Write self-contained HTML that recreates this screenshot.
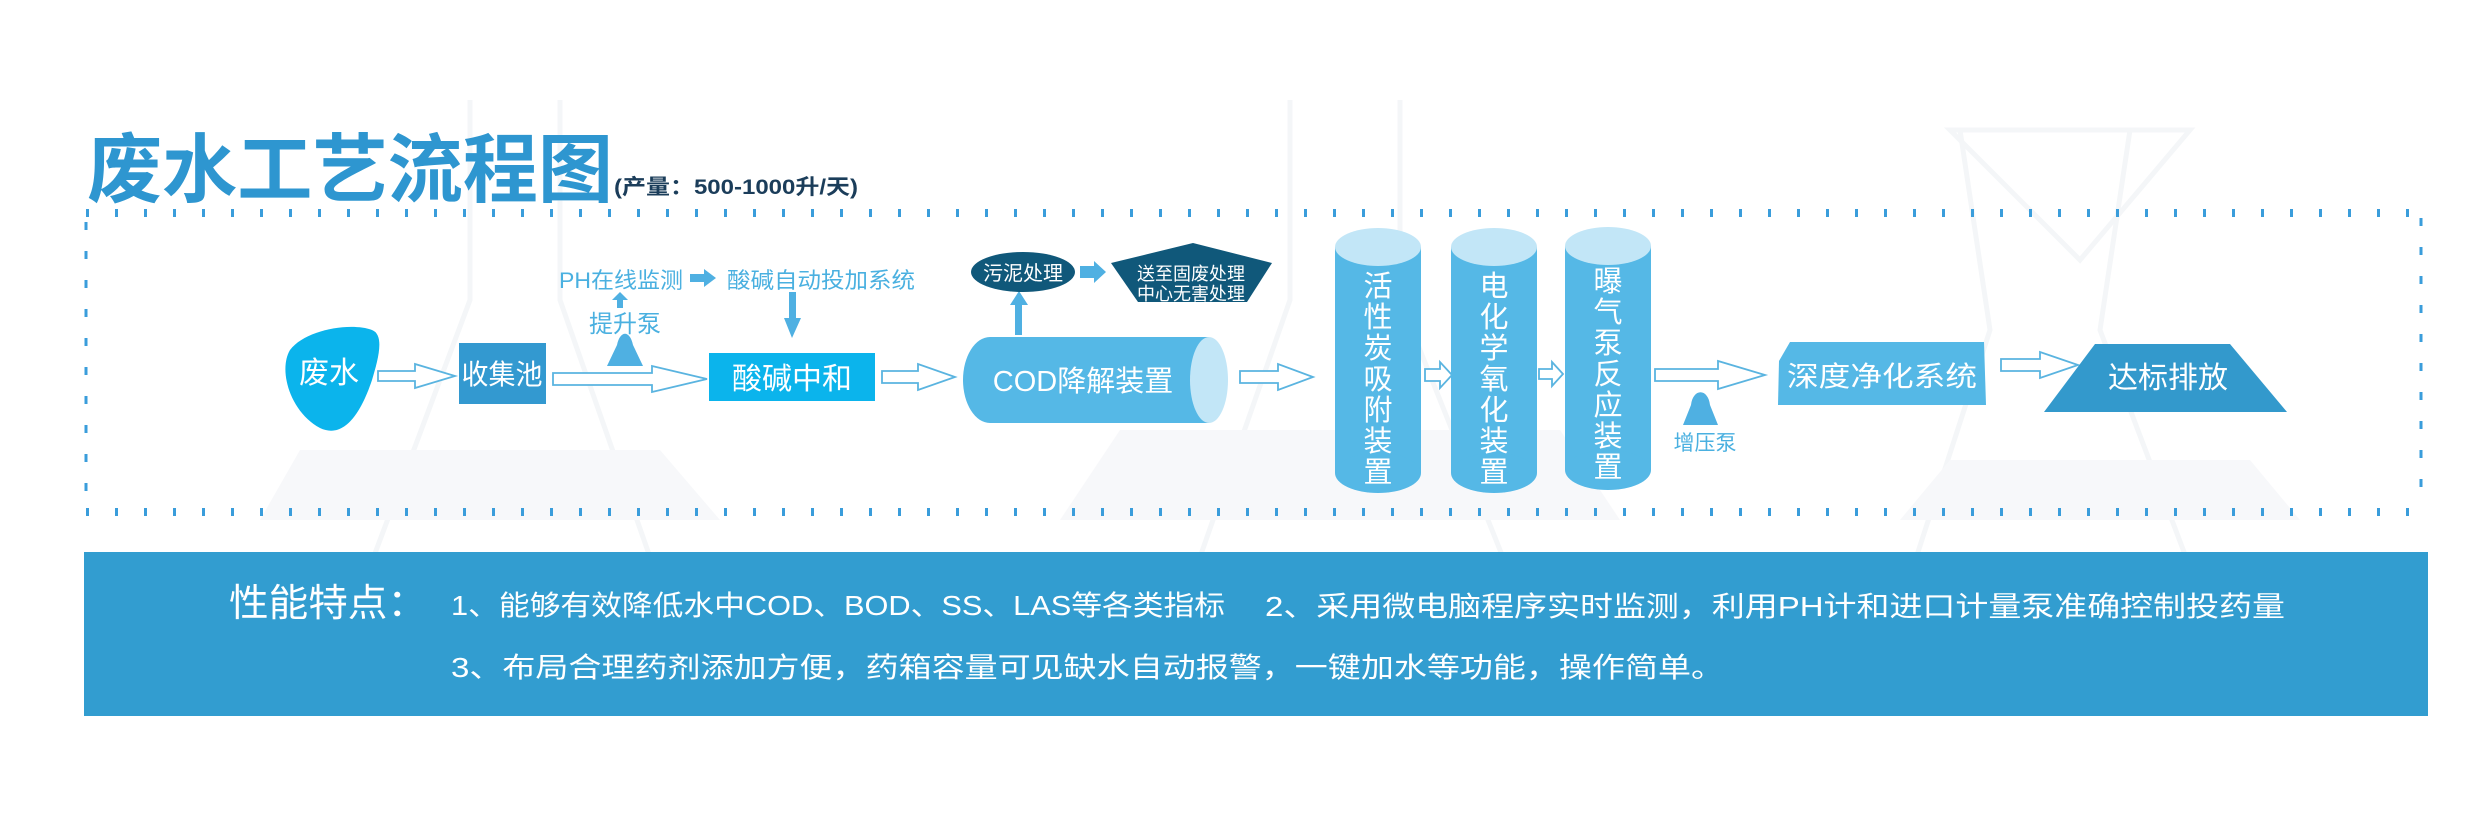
<!DOCTYPE html>
<html><head><meta charset="utf-8"><style>
html,body{margin:0;padding:0;background:#fff;}
svg{display:block;}
text{font-family:"Liberation Sans","Noto Sans CJK SC",sans-serif;}
</style></head><body>
<svg width="2480" height="823" viewBox="0 0 2480 823" xmlns="http://www.w3.org/2000/svg">
<rect width="2480" height="823" fill="#fff"/>
<g fill="none" stroke="#f4f6f8" stroke-width="5">
<path d="M470 100 L470 300 L320 700"/><path d="M560 100 L560 300 L700 700"/>
<path d="M1290 100 L1290 300 L1150 700"/><path d="M1400 100 L1400 300 L1560 700"/>
<path d="M1960 130 L1990 330 L1870 700"/><path d="M2130 130 L2100 330 L2240 700"/>
<path d="M1950 130 L2190 130 L2080 260 Z"/>
</g>
<g fill="#f7f8fa">
<path d="M300 450 L660 450 L720 520 L260 520 Z"/>
<path d="M1120 430 L1560 430 L1620 520 L1060 520 Z"/>
<path d="M1950 460 L2250 460 L2300 520 L1900 520 Z"/>
</g>
<text x="87" y="196" font-size="75" font-weight="bold" fill="#2e96d0" textLength="526" lengthAdjust="spacingAndGlyphs">废水工艺流程图</text>
<text x="614" y="194" font-size="21" font-weight="bold" fill="#1b3d5a" textLength="244" lengthAdjust="spacingAndGlyphs">(产量：500-1000升/天)</text>
<line x1="86" y1="213" x2="2422" y2="213" stroke="#3a9ddb" stroke-width="8" stroke-dasharray="3 26"/>
<line x1="86" y1="512" x2="2422" y2="512" stroke="#3a9ddb" stroke-width="8" stroke-dasharray="3 26"/>
<line x1="86" y1="222" x2="86" y2="505" stroke="#3a9ddb" stroke-width="3" stroke-dasharray="8 21"/>
<line x1="2421" y1="218" x2="2421" y2="505" stroke="#3a9ddb" stroke-width="3" stroke-dasharray="8 21"/>

<g fill="#fff" stroke="#5ab4e0" stroke-width="1.8">
<path d="M378 371 H415 V364 L455 376 L415 388 V381 H378 Z"/>
<path d="M553 373 H652 V366 L707 379 L652 392 V385 H553 Z"/>
<path d="M882 371 H918 V364 L955 377 L918 390 V383 H882 Z"/>
<path d="M1240 371 H1278 V364 L1313 377 L1278 390 V383 H1240 Z"/>
<path d="M1425 369 H1440 V362 L1452 375 L1440 388 V381 H1425 Z"/>
<path d="M1539 369 H1552 V362 L1563 374 L1552 386 V379 H1539 Z"/>
<path d="M1655 369 H1718 V361 L1765 375 L1718 389 V381 H1655 Z"/>
<path d="M2001 359 H2040 V352 L2078 365 L2040 378 V371 H2001 Z"/>
</g>

<path d="M372 330 C385 335 378 360 372 380 C362 410 345 440 320 428 C290 412 278 370 290 350 C305 330 350 322 372 330 Z" fill="#0bb4ec"/>
<text x="329" y="383" font-size="30" fill="#fff" text-anchor="middle">废水</text>
<rect x="459" y="343" width="87" height="61" fill="#3399d0"/>
<text x="502" y="384" font-size="28" fill="#fff" text-anchor="middle" textLength="81" lengthAdjust="spacingAndGlyphs">收集池</text>
<path d="M607 366 L617 345 C620 330 630 330 633 345 L643 366 Z" fill="#4fb0e2"/>
<text x="625" y="332" font-size="24" fill="#4ab0e0" text-anchor="middle">提升泵</text>
<path d="M617 308 V300 H612 L620 292 L628 300 H623 V308 Z" fill="#4fb0e2"/>
<text x="559" y="288" font-size="22" fill="#4ab0e0" textLength="124" lengthAdjust="spacingAndGlyphs">PH在线监测</text>
<path d="M690 274 H704 V269 L716 278 L704 287 V282 H690 Z" fill="#4fb0e2"/>
<text x="727" y="288" font-size="22" fill="#4ab0e0" textLength="188" lengthAdjust="spacingAndGlyphs">酸碱自动投加系统</text>
<path d="M789 292 H796 V318 H801 L792 338 L784 318 H789 Z" fill="#4fb0e2"/>
<rect x="709" y="353" width="166" height="48" fill="#0bb4ec"/>
<text x="792" y="389" font-size="30" fill="#fff" text-anchor="middle">酸碱中和</text>
<path d="M990 337 H1209 V423 H990 A27 43 0 0 1 990 337 Z" fill="#55b8e6"/>
<ellipse cx="1209" cy="380" rx="19" ry="43" fill="#c2e6f7"/>
<text x="1083" y="391" font-size="29" fill="#fff" text-anchor="middle">COD降解装置</text>
<path d="M1015 335 V305 H1010 L1019 291 L1028 305 H1022 V335 Z" fill="#4fb0e2"/>
<ellipse cx="1023" cy="272" rx="52" ry="20" fill="#10587a"/>
<text x="1023" y="280" font-size="20" fill="#fff" text-anchor="middle">污泥处理</text>
<path d="M1080 266 H1094 V261 L1106 272 L1094 283 V278 H1080 Z" fill="#4fb0e2"/>
<path d="M1193 243 L1272 263 L1247 302 H1138 L1111 263 Z" fill="#10587a"/>
<text x="1191" y="280" font-size="18" fill="#fff" text-anchor="middle">送至固废处理</text>
<text x="1191" y="300" font-size="18" fill="#fff" text-anchor="middle">中心无害处理</text>
<g>
<rect x="1335" y="247" width="86" height="226" fill="#55b8e6"/>
<ellipse cx="1378" cy="473" rx="43" ry="20" fill="#55b8e6"/>
<ellipse cx="1378" cy="247" rx="43" ry="19" fill="#c2e6f7"/>
<rect x="1451" y="247" width="86" height="226" fill="#55b8e6"/>
<ellipse cx="1494" cy="473" rx="43" ry="20" fill="#55b8e6"/>
<ellipse cx="1494" cy="247" rx="43" ry="19" fill="#c2e6f7"/>
<rect x="1565" y="246" width="86" height="224" fill="#55b8e6"/>
<ellipse cx="1608" cy="470" rx="43" ry="20" fill="#55b8e6"/>
<ellipse cx="1608" cy="246" rx="43" ry="19" fill="#c2e6f7"/>
</g>
<g font-size="29" fill="#fff" text-anchor="middle">
<text x="1378" y="296">活</text><text x="1378" y="327">性</text><text x="1378" y="358">炭</text><text x="1378" y="389">吸</text><text x="1378" y="420">附</text><text x="1378" y="451">装</text><text x="1378" y="482">置</text>
<text x="1494" y="296">电</text><text x="1494" y="327">化</text><text x="1494" y="358">学</text><text x="1494" y="389">氧</text><text x="1494" y="420">化</text><text x="1494" y="451">装</text><text x="1494" y="482">置</text>
<text x="1608" y="291">曝</text><text x="1608" y="322">气</text><text x="1608" y="353">泵</text><text x="1608" y="384">反</text><text x="1608" y="415">应</text><text x="1608" y="446">装</text><text x="1608" y="477">置</text>
</g>
<path d="M1683 425 L1691 405 C1693 388 1708 388 1710 405 L1718 425 Z" fill="#4fb0e2"/>
<text x="1705" y="450" font-size="21" fill="#4ab0e0" text-anchor="middle">增压泵</text>
<path d="M1790 342 H1984 L1986 405 H1778 L1779 361 Z" fill="#55b8e6"/>
<text x="1882" y="386" font-size="28" fill="#fff" text-anchor="middle" textLength="190" lengthAdjust="spacingAndGlyphs">深度净化系统</text>
<path d="M2095 344 H2230 L2287 412 H2044 Z" fill="#3399cc"/>
<text x="2168" y="388" font-size="30" fill="#fff" text-anchor="middle">达标排放</text>

<rect x="84" y="552" width="2344" height="164" fill="#329dd0"/>
<text x="229" y="616" font-size="38" fill="#fff" textLength="198" lengthAdjust="spacingAndGlyphs">性能特点：</text>
<text x="451" y="615" font-size="28" fill="#fff" textLength="774" lengthAdjust="spacingAndGlyphs">1、能够有效降低水中COD、BOD、SS、LAS等各类指标</text>
<text x="1265" y="616" font-size="28" fill="#fff" textLength="1020" lengthAdjust="spacingAndGlyphs">2、采用微电脑程序实时监测，利用PH计和进口计量泵准确控制投药量</text>
<text x="451" y="677" font-size="28" fill="#fff" textLength="1273" lengthAdjust="spacingAndGlyphs">3、布局合理药剂添加方便，药箱容量可见缺水自动报警，一键加水等功能，操作简单。</text>
</svg>
</body></html>
